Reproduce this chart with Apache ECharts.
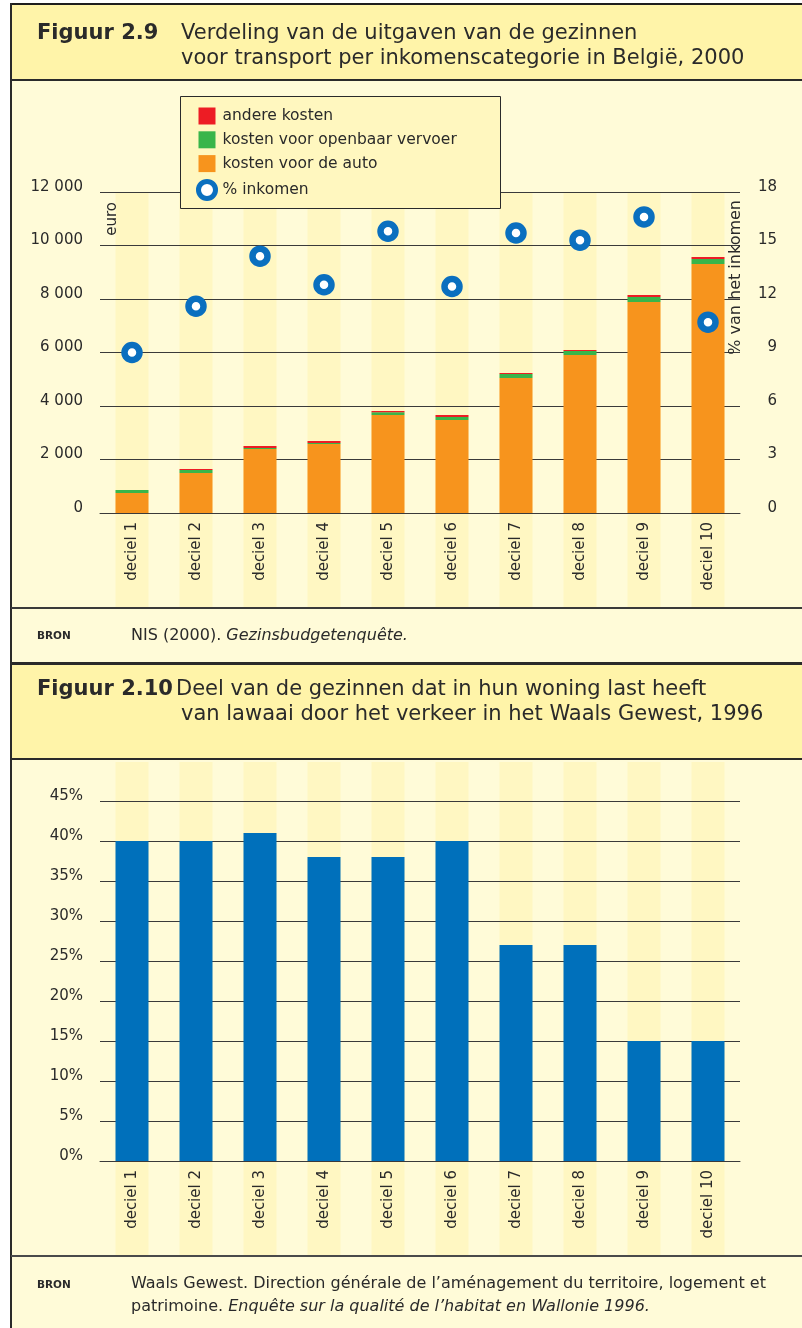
<!DOCTYPE html>
<html><head><meta charset="utf-8">
<script src="https://cdn.jsdelivr.net/npm/echarts@6/dist/echarts.min.js"></script>
<style>html,body{margin:0;padding:0;background:#fff}#c{width:802px;height:1328px}</style>
</head><body><div id="c"></div>
<script>
// ---- data ----
const categories = ['deciel 1','deciel 2','deciel 3','deciel 4','deciel 5','deciel 6','deciel 7','deciel 8','deciel 9','deciel 10'];
const kostenAuto   = [750, 1495, 2390, 2580, 3660, 3475, 5045, 5905, 7890, 9310];
const kostenOV     = [110, 110, 40, 40, 110, 110, 150, 150, 185, 185];
const andereKosten = [0, 40, 75, 75, 40, 75, 40, 40, 75, 75];
const pctInkomen   = [9.0, 11.6, 14.4, 12.8, 15.8, 12.7, 15.7, 15.3, 16.6, 10.7];
const lawaai       = [40, 40, 41, 38, 38, 40, 27, 27, 15, 15];
const stripeBands  = [1, 1, 1, 1, 1, 1, 1, 1, 1, 1];
const euroTicks    = [0, 12000, 2000];
const pctTicks     = [0, 18, 3];
const lawaaiTicks  = [0, 45, 5];

// ---- style ----
const FONT = 'DejaVu Sans';
const INK = '#2a2a2a';
const BG = '#FFFBD8', BAND = '#FFF4A9', STRIPE = '#FFF7C2', LEGBG = '#FFF7BF';
const LINE = '#3a3a3a';

function thousands(v){ return String(v).replace(/\B(?=(\d{3})+(?!\d))/g, ' '); }

const chart = echarts.init(document.getElementById('c'), null, {renderer:'canvas', width:802, height:1328});

const labelBase = {fontFamily: FONT, fontSize: 15, color: INK};

function rect(x,y,w,h,fill,z){ return {type:'rect', z:z||0, silent:true, shape:{x,y,width:w,height:h}, style:{fill}}; }
function txt(x,y,text,font,extra){ return {type:'text', z:8, silent:true, x, y, style:Object.assign({text, font, fill:INK, textVerticalAlign:'middle'}, extra||{})}; }

const option = {
  backgroundColor: '#ffffff',
  animation: false,
  textStyle: {fontFamily: FONT},
  grid: [
    {left:100, width:640, top:192, height:321},
    {left:100, width:640, top:193, height:415},
    {left:100, width:640, top:801, height:360},
    {left:100, width:640, top:762, height:494}
  ],
  xAxis: [
    {type:'category', gridIndex:0, data:categories, z:2,
     axisLine:{lineStyle:{color:LINE, width:1}}, axisTick:{show:false},
     axisLabel:Object.assign({rotate:90, margin:9, interval:0}, labelBase)},
    {type:'category', gridIndex:1, data:categories, show:false},
    {type:'category', gridIndex:2, data:categories, z:2,
     axisLine:{lineStyle:{color:LINE, width:1}}, axisTick:{show:false},
     axisLabel:Object.assign({rotate:90, margin:9, interval:0}, labelBase)},
    {type:'category', gridIndex:3, data:categories, show:false}
  ],
  yAxis: [
    {type:'value', gridIndex:0, position:'left', min:euroTicks[0], max:euroTicks[1], interval:euroTicks[2], z:2,
     axisLine:{show:false}, axisTick:{show:false},
     splitLine:{lineStyle:{color:LINE, width:1}},
     axisLabel:Object.assign({margin:17, formatter:thousands, verticalAlign:'bottom', lineHeight:10}, labelBase)},
    {type:'value', gridIndex:0, position:'right', min:pctTicks[0], max:pctTicks[1], interval:pctTicks[2], z:2,
     axisLine:{show:false}, axisTick:{show:false}, splitLine:{show:false},
     axisLabel:Object.assign({margin:37, align:'right', verticalAlign:'bottom', lineHeight:10}, labelBase)},
    {type:'value', gridIndex:1, min:0, max:1, show:false},
    {type:'value', gridIndex:2, min:lawaaiTicks[0], max:lawaaiTicks[1], interval:lawaaiTicks[2], z:2,
     axisLine:{show:false}, axisTick:{show:false},
     splitLine:{lineStyle:{color:LINE, width:1}},
     axisLabel:Object.assign({margin:17, formatter:'{value}%', verticalAlign:'bottom', lineHeight:10}, labelBase)},
    {type:'value', gridIndex:3, min:0, max:1, show:false}
  ],
  legend: {
    orient:'vertical', left:196, top:107.5, padding:0, itemWidth:17, itemHeight:17, itemGap:6.8,
    selectedMode:false, z:9,
    textStyle:{fontFamily:FONT, fontSize:15.5, color:INK, padding:[0,0,0,2]},
    data:[
      {name:'andere kosten', icon:'rect'},
      {name:'kosten voor openbaar vervoer', icon:'rect'},
      {name:'kosten voor de auto', icon:'rect'},
      {name:'% inkomen', icon:'circle', itemStyle:{color:'#ffffff', borderColor:'#0A6FBF', borderWidth:5}}
    ]
  },
  series: [
    {type:'bar', name:'stripes1', xAxisIndex:1, yAxisIndex:2, data:stripeBands, barWidth:33, silent:true, z:1,
     itemStyle:{color:STRIPE}},
    {type:'bar', name:'kosten voor de auto', xAxisIndex:0, yAxisIndex:0, stack:'k', data:kostenAuto, barWidth:33, z:3,
     itemStyle:{color:'#F7941D'}},
    {type:'bar', name:'kosten voor openbaar vervoer', xAxisIndex:0, yAxisIndex:0, stack:'k', data:kostenOV, barWidth:33, z:3,
     itemStyle:{color:'#39B54A'}},
    {type:'bar', name:'andere kosten', xAxisIndex:0, yAxisIndex:0, stack:'k', data:andereKosten, barWidth:33, z:3,
     itemStyle:{color:'#ED1C24'}},
    {type:'scatter', name:'% inkomen', xAxisIndex:0, yAxisIndex:1, data:pctInkomen, symbol:'circle', symbolSize:15, z:4,
     itemStyle:{color:'#ffffff', borderColor:'#0A6FBF', borderWidth:6.5, opacity:1}},
    {type:'bar', name:'stripes2', xAxisIndex:3, yAxisIndex:4, data:stripeBands, barWidth:33, silent:true, z:1,
     itemStyle:{color:STRIPE}},
    {type:'bar', name:'lawaai', xAxisIndex:2, yAxisIndex:3, data:lawaai, barWidth:33, z:3,
     itemStyle:{color:'#0070BB'}}
  ],
  graphic: [
    // panels
    rect(11, 4, 791, 1324, BG, 0),
    rect(11, 4, 791, 76, BAND, 0),
    rect(11, 664, 791, 96, BAND, 0),
    // separators / border
    rect(11, 3, 791, 2, '#1e1e1e', 7),
    rect(10, 3, 2, 1325, '#2a2a2a', 7),
    rect(11, 79, 791, 2, '#2a2a2a', 7),
    rect(11, 607, 791, 2, '#3a3a3a', 7),
    rect(11, 662, 791, 3, '#2a2a2a', 7),
    rect(11, 758, 791, 2, '#2a2a2a', 7),
    rect(11, 1255, 791, 2, '#4a4a4a', 7),
    // legend box
    {type:'rect', z:8, silent:true, shape:{x:180.5, y:96.5, width:320, height:112}, style:{fill:LEGBG, stroke:'#2a2a2a', lineWidth:1}},
    // titles
    txt(37, 34, 'Figuur 2.9', 'bold 21px "DejaVu Sans"'),
    txt(181, 34, 'Verdeling van de uitgaven van de gezinnen', '21px "DejaVu Sans"'),
    txt(181, 59, 'voor transport per inkomenscategorie in België, 2000', '21px "DejaVu Sans"'),
    txt(37, 690, 'Figuur 2.10', 'bold 21px "DejaVu Sans"'),
    txt(176, 690, 'Deel van de gezinnen dat in hun woning last heeft', '21px "DejaVu Sans"'),
    txt(181, 715, 'van lawaai door het verkeer in het Waals Gewest, 1996', '21px "DejaVu Sans"'),
    // axis names
    {type:'text', z:8, silent:true, x:112, y:202, rotation:Math.PI/2,
     style:{text:'euro', font:'15px "DejaVu Sans"', fill:INK, textAlign:'right', textVerticalAlign:'middle'}},
    {type:'text', z:8, silent:true, x:736, y:200, rotation:Math.PI/2,
     style:{text:'% van het inkomen', font:'16px "DejaVu Sans"', fill:INK, textAlign:'right', textVerticalAlign:'middle'}},
    // sources
    txt(37, 636, 'BRON', 'bold 10.5px "DejaVu Sans"'),
    {type:'text', z:8, silent:true, x:131, y:636,
     style:{text:'{a|NIS (2000). }{b|Gezinsbudgetenquête.}', fill:INK, textVerticalAlign:'middle',
       rich:{a:{fontFamily:FONT, fontSize:16, fill:INK}, b:{fontFamily:FONT, fontSize:16, fontStyle:'italic', fill:INK}}}},
    txt(37, 1285, 'BRON', 'bold 10.5px "DejaVu Sans"'),
    txt(131, 1284, 'Waals Gewest. Direction générale de l’aménagement du territoire, logement et', '16px "DejaVu Sans"'),
    {type:'text', z:8, silent:true, x:131, y:1307,
     style:{text:'{a|patrimoine. }{b|Enquête sur la qualité de l’habitat en Wallonie 1996.}', fill:INK, textVerticalAlign:'middle',
       rich:{a:{fontFamily:FONT, fontSize:16, fill:INK}, b:{fontFamily:FONT, fontSize:16, fontStyle:'italic', fill:INK}}}}
  ]
};
chart.setOption(option);
</script></body></html>
